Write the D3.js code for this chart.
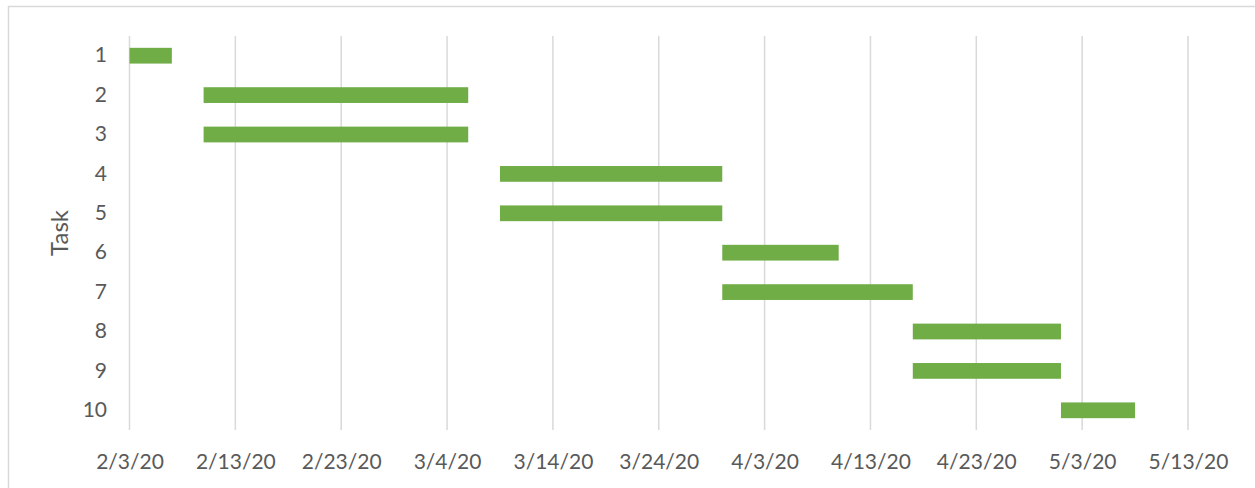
<!DOCTYPE html>
<html>
<head>
<meta charset="utf-8">
<script src="https://cdn.jsdelivr.net/npm/d3@7"></script>
<style>
  body { margin: 0; background: #fff; }
  svg text { font-family: Lato, "Open Sans", sans-serif; fill: #595959; }
</style>
</head>
<body>
<svg width="1255" height="488"></svg>
<script>
// Chart data
var tasks = ["1", "2", "3", "4", "5", "6", "7", "8", "9", "10"],
	starts = ["2020-02-03", "2020-02-10", "2020-02-10", "2020-03-09", "2020-03-09",
		"2020-03-30", "2020-03-30", "2020-04-17", "2020-04-17", "2020-05-01"],
	ends = ["2020-02-07", "2020-03-06", "2020-03-06", "2020-03-30", "2020-03-30",
		"2020-04-10", "2020-04-17", "2020-05-01", "2020-05-01", "2020-05-08"],
	tickDates = ["2020-02-03", "2020-02-13", "2020-02-23", "2020-03-04", "2020-03-14",
		"2020-03-24", "2020-04-03", "2020-04-13", "2020-04-23", "2020-05-03", "2020-05-13"];

var parse = d3.timeParse("%Y-%m-%d");
var rows = tasks.map(function(t, i) {
	return {task: t, start: parse(starts[i]), end: parse(ends[i])};
});
var ticks = tickDates.map(parse);

var svg = d3.select("svg");

// Chart border (only top and left visible inside the frame)
svg.append("rect")
	.attr("x", 8.5).attr("y", 6.5)
	.attr("width", 1300).attr("height", 600)
	.attr("fill", "none")
	.attr("stroke", "#d9d9d9")
	.attr("stroke-width", 1.5);

var plotLeft = 129.5, plotRight = 1188, plotTop = 36, plotBottom = 430;

var x = d3.scaleTime()
	.domain([ticks[0], ticks[ticks.length - 1]])
	.range([plotLeft, plotRight]);

var y = d3.scaleBand()
	.domain(tasks)
	.range([plotTop, plotBottom])
	.paddingInner(0.6)
	.paddingOuter(0.3);

// Gridlines
svg.append("g")
	.selectAll("line")
	.data(ticks).enter()
	.append("line")
	.attr("x1", function(d) { return x(d); })
	.attr("x2", function(d) { return x(d); })
	.attr("y1", plotTop)
	.attr("y2", plotBottom)
	.attr("stroke", "#d9d9d9")
	.attr("stroke-width", 1.5);

// Bars
svg.append("g")
	.selectAll("rect")
	.data(rows).enter()
	.append("rect")
	.attr("x", function(d) { return x(d.start); })
	.attr("y", function(d) { return y(d.task); })
	.attr("width", function(d) { return x(d.end) - x(d.start); })
	.attr("height", y.bandwidth())
	.attr("fill", "#70ad47");

// X axis labels
var fmt = d3.timeFormat("%-m/%-d/%y");
var xAxis = svg.append("g")
	.attr("transform", "translate(0," + plotBottom + ")")
	.call(d3.axisBottom(x).tickValues(ticks).tickFormat(fmt).tickSize(0).tickPadding(0));
xAxis.select(".domain").remove();
xAxis.selectAll("text")
	.attr("y", 39)
	.attr("dy", 0)
	.style("font-size", "21px")
	.style("font-family", "Lato, sans-serif")
	.attr("fill", "#595959");

// Y axis labels
var yAxis = svg.append("g")
	.attr("transform", "translate(107,0)")
	.call(d3.axisLeft(y).tickSize(0).tickPadding(0));
yAxis.select(".domain").remove();
yAxis.selectAll("text")
	.style("font-size", "21px")
	.style("font-family", "Lato, sans-serif")
	.attr("fill", "#595959");

// Y axis title
svg.append("text")
	.attr("transform", "translate(68," + ((plotTop + plotBottom) / 2) + ") rotate(-90)")
	.attr("text-anchor", "middle")
	.style("font-size", "24px")
	.text("Task");
</script>
</body>
</html>
